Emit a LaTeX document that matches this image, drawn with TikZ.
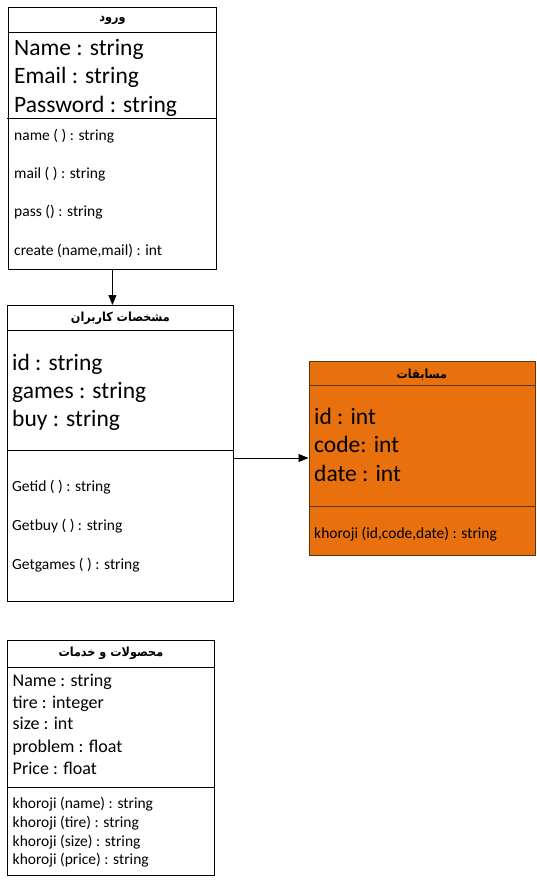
\documentclass[tikz,border=0pt]{standalone}
\usepackage{fontspec}
\setmainfont{Carlito}
\newfontfamily\farsi[Script=Arabic]{DejaVu Sans Condensed}
\TeXXeTstate=1
\usetikzlibrary{arrows.meta}
\definecolor{narenji}{RGB}{232,113,14}
\definecolor{narenjidark}{RGB}{88,52,18}
\newcommand{\onvan}[1]{{\farsi\bfseries\beginR #1\endR}}

\begin{document}
\begin{tikzpicture}[x=1pt,y=-1pt,
  classbox/.style={draw, line width=0.8pt, anchor=north west, inner sep=0pt},
  classtitle/.style={inner sep=0pt, font=\fontsize{12.5}{14}\selectfont},
  bigattr/.style={anchor=base west, inner sep=0pt, font=\fontsize{23.5}{28}\selectfont},
  midattr/.style={anchor=base west, inner sep=0pt, font=\fontsize{18}{22}\selectfont},
  method/.style={anchor=base west, inner sep=0pt, font=\fontsize{15.5}{19}\selectfont},
  link/.style={-{Triangle[length=10pt,width=8pt]}, line width=0.8pt}]
  \useasboundingbox (0,0) rectangle (536,884);

  % ورود
  \node[classbox, minimum width=208pt, minimum height=262pt] (vorud) at (8,7) {};
  \draw ([yshift=-25pt]vorud.north west) -- ([yshift=-25pt]vorud.north east);
  \draw ([shift={(-1pt,-111pt)}]vorud.north west) -- ([shift={(-1pt,-111pt)}]vorud.north east);
  \node[classtitle] (vorud-t) at ([yshift=-13pt]vorud.north) {\onvan{ورود}};
  \node[bigattr] (vorud-a1) at (14,55) {Name : string};
  \node[bigattr] (vorud-a2) at (14,83.5) {Email : string};
  \node[bigattr] (vorud-a3) at (14,112.5) {Password : string};
  \node[method] (vorud-m1) at (14,140) {name ( ) : string};
  \node[method] (vorud-m2) at (14,178) {mail ( ) : string};
  \node[method] (vorud-m3) at (14,216) {pass () : string};
  \node[method] (vorud-m4) at (14,255) {create (name,mail) : int};

  % مشخصات کاربران
  \node[classbox, minimum width=226pt, minimum height=296pt] (karbaran) at (7,305) {};
  \draw ([yshift=-25pt]karbaran.north west) -- ([yshift=-25pt]karbaran.north east);
  \draw ([yshift=-145pt]karbaran.north west) -- ([yshift=-145pt]karbaran.north east);
  \node[classtitle] (karbaran-t) at ([yshift=-13.5pt]karbaran.north) {\onvan{مشخصات کاربران}};
  \node[bigattr] (karbaran-a1) at (12,370) {id : string};
  \node[bigattr] (karbaran-a2) at (12,398) {games : string};
  \node[bigattr] (karbaran-a3) at (12,426) {buy : string};
  \node[method] (karbaran-m1) at (12,491.5) {Getid ( ) : string};
  \node[method] (karbaran-m2) at (12,530) {Getbuy ( ) : string};
  \node[method] (karbaran-m3) at (12,569) {Getgames ( ) : string};

  % مسابقات
  \node[classbox, draw=narenjidark, fill=narenji, minimum width=226pt, minimum height=194pt] (mosabeghat) at (308.5,361) {};
  \draw[narenjidark] ([yshift=-24.5pt]mosabeghat.north west) -- ([yshift=-24.5pt]mosabeghat.north east);
  \draw[narenjidark] ([yshift=-145.5pt]mosabeghat.north west) -- ([yshift=-145.5pt]mosabeghat.north east);
  \node[classtitle] (mosabeghat-t) at ([yshift=-13.5pt]mosabeghat.north) {\onvan{مسابقات}};
  \node[bigattr] (mosabeghat-a1) at (314,424.5) {id : int};
  \node[bigattr] (mosabeghat-a2) at (314,452.5) {code: int};
  \node[bigattr] (mosabeghat-a3) at (314,481.5) {date : int};
  \node[method] (mosabeghat-m1) at (314,538.5) {khoroji (id,code,date) : string};

  % محصولات و خدمات
  \node[classbox, minimum width=207pt, minimum height=235pt] (mahsoolat) at (7,639.5) {};
  \draw ([yshift=-27.5pt]mahsoolat.north west) -- ([yshift=-27.5pt]mahsoolat.north east);
  \draw ([yshift=-148pt]mahsoolat.north west) -- ([yshift=-148pt]mahsoolat.north east);
  \node[classtitle] (mahsoolat-t) at ([yshift=-14pt]mahsoolat.north) {\onvan{محصولات و خدمات}};
  \node[midattr] (mahsoolat-a1) at (12.5,686) {Name : string};
  \node[midattr] (mahsoolat-a2) at (12.5,708) {tire : integer};
  \node[midattr] (mahsoolat-a3) at (12.5,729.5) {size : int};
  \node[midattr] (mahsoolat-a4) at (12.5,752) {problem : float};
  \node[midattr] (mahsoolat-a5) at (12.5,774) {Price : float};
  \node[method] (mahsoolat-m1) at (12.5,808.5) {khoroji (name) : string};
  \node[method] (mahsoolat-m2) at (12.5,827) {khoroji (tire) : string};
  \node[method] (mahsoolat-m3) at (12.5,846) {khoroji (size) : string};
  \node[method] (mahsoolat-m4) at (12.5,864.5) {khoroji (price) : string};

  % arrows
  \coordinate (karbaran-out) at (233,458);
  \draw[link] (vorud.south) -- (vorud.south |- karbaran.north);
  \draw[link] (karbaran-out) -- (karbaran-out -| mosabeghat.west);
\end{tikzpicture}
\end{document}
